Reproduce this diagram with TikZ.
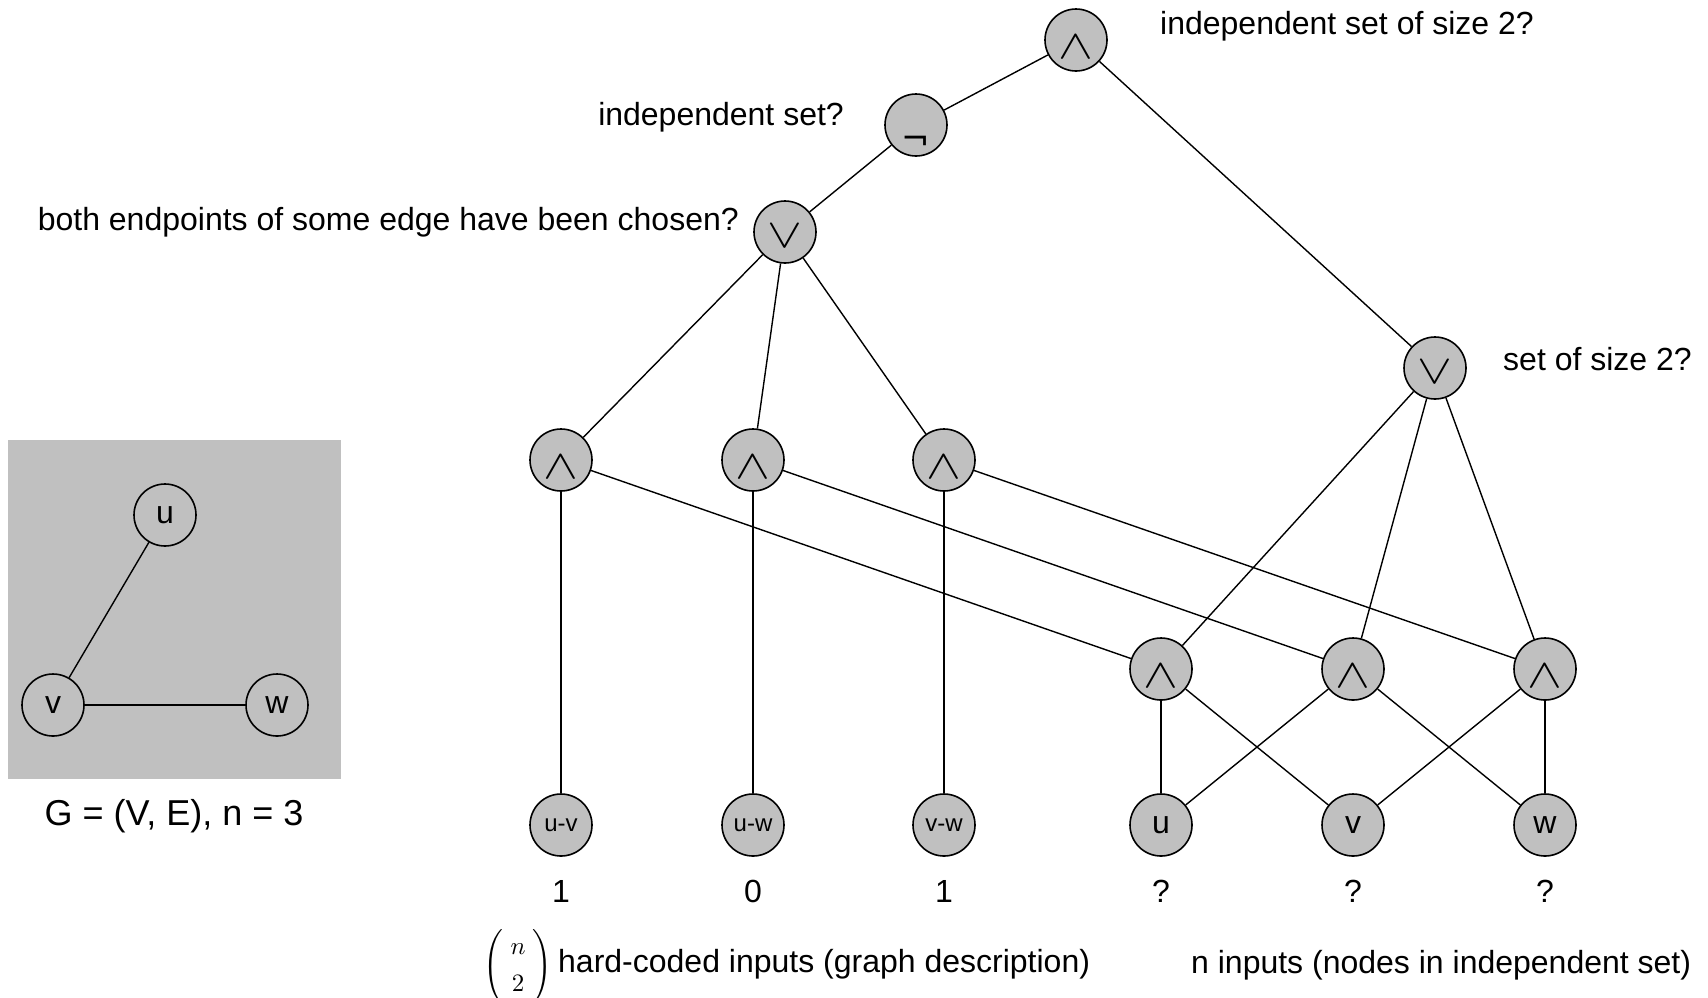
\documentclass[tikz,border=0pt]{standalone}
\usepackage{amsmath}
\usepackage{fontspec}
\setmainfont{Liberation Sans}
\newfontfamily\opfont{DejaVu Sans}
\usetikzlibrary{positioning,calc}
\definecolor{GateGray}{RGB}{192,192,192}
\newcommand{\opand}{\smash{\raisebox{-18pt}{\scalebox{2.1}[1.65]{$\wedge$}}}}
\newcommand{\opor}{\smash{\raisebox{-15pt}{\scalebox{2.1}[1.65]{$\vee$}}}}
\newcommand{\opnot}{\smash{\raisebox{-25pt}{\opfont\fontsize{34}{40}\selectfont ¬}}}
\tikzset{
	gate/.style={circle,draw=black,fill=GateGray,line width=1.6pt,minimum size=62pt,inner sep=0pt,
		font=\fontsize{32}{38}\selectfont},
	inp/.style={gate,font=\fontsize{32}{38}\selectfont},
	gnode/.style={circle,draw=black,line width=1.6pt,minimum size=62pt,inner sep=0pt,
		font=\fontsize{32}{38}\selectfont},
	wire/.style={draw=black,line width=1.4pt},
	lab/.style={inner sep=0pt,font=\fontsize{32}{38}\selectfont},
}

\begin{document}
\begin{tikzpicture}[x=1pt,y=-1pt]
			\useasboundingbox (0,0) rectangle (1708,997);
			% the graph G
			\begin{scope}
				\fill[GateGray] (8,440) rectangle (341,779);
				\node[gnode] (gu) at (165,515) {u};
				\node[gnode] (gv) at (53,705) {v};
				\node[gnode] (gw) at (277,705) {w};
				\draw[wire] (gu)--(gv);
				\draw[wire] (gv)--(gw);
				\node[lab,font=\fontsize{36}{42}\selectfont] (cap) at (174,816) {G = (V, E), n = 3};
			\end{scope}
			% the circuit
			\node[gate] (top) at (1076,40) {\opand};
			\node[gate] (neg) at (916,125) {\opnot};
			\node[gate] (orl) at (785,232) {\opor};
			\node[gate] (orr) at (1435,368) {\opor};
			\node[gate] (a1) at (561,460) {\opand};
			\node[gate] (a2) at (753,460) {\opand};
			\node[gate] (a3) at (944,460) {\opand};
			\node[gate] (b1) at (1161,669) {\opand};
			\node[gate] (b2) at (1353,669) {\opand};
			\node[gate] (b3) at (1545,669) {\opand};
			\node[inp,font=\fontsize{24}{28}\selectfont] (uv) at (561,825) {u-v};
			\node[inp,font=\fontsize{24}{28}\selectfont] (uw) at (753,825) {u-w};
			\node[inp,font=\fontsize{24}{28}\selectfont] (vw) at (944,825) {v-w};
			\node[inp] (iu) at (1161,825) {u};
			\node[inp] (iv) at (1353,825) {v};
			\node[inp] (iw) at (1545,825) {w};
			\draw[wire] (top)--(neg);
			\draw[wire] (top)--(orr);
			\draw[wire] (neg)--(orl);
			\draw[wire] (orl)--(a1);
			\draw[wire] (orl)--(a2);
			\draw[wire] (orl)--(a3);
			\draw[wire] (a1)--(uv);
			\draw[wire] (a2)--(uw);
			\draw[wire] (a3)--(vw);
			\draw[wire] (a1)--(b1);
			\draw[wire] (a2)--(b2);
			\draw[wire] (a3)--(b3);
			\draw[wire] (orr)--(b1);
			\draw[wire] (orr)--(b2);
			\draw[wire] (orr)--(b3);
			\draw[wire] (b1)--(iu);
			\draw[wire] (b1)--(iv);
			\draw[wire] (b2)--(iu);
			\draw[wire] (b2)--(iw);
			\draw[wire] (b3)--(iv);
			\draw[wire] (b3)--(iw);
			% values of the inputs
			\node[lab] (x1) at (561,891) {1};
			\node[lab] (x2) at (753,891) {0};
			\node[lab] (x3) at (944,891) {1};
			\node[lab] (x4) at (1161,891) {?};
			\node[lab] (x5) at (1353,891) {?};
			\node[lab] (x6) at (1545,891) {?};
			% comments
			\node[lab,anchor=west] (ltop) at (1160,26) {independent set of size 2?};
			\node[lab,anchor=east] (lneg) at (844,117) {independent set?};
			\node[lab,anchor=east] (lorl) at (739,222) {both endpoints of some edge have been chosen?};
			\node[lab,anchor=west] (lorr) at (1503,359) {set of size 2?};
			\node[inner sep=0pt] (bin) at (518,967)
				{\scalebox{2.5}{$\left(\;\begin{matrix} n\\[3pt] 2\end{matrix}\;\right)$}};
			\node[lab,anchor=west] (lhard) at (558,964) {hard-coded inputs (graph description)};
			\node[lab,anchor=west] (lfree) at (1191,965) {n inputs (nodes in independent set)};
		\end{tikzpicture}
\end{document}
